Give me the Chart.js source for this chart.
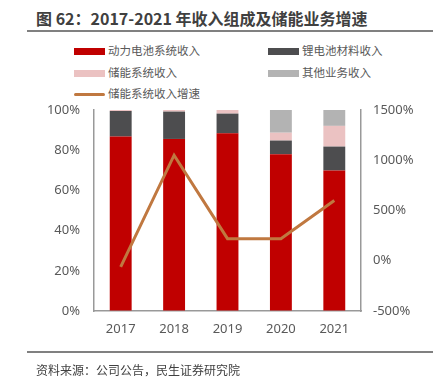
<!DOCTYPE html>
<html>
<head>
<meta charset="utf-8">
<script src="https://cdn.jsdelivr.net/npm/chart.js@4"></script>
<style>
    html, body { margin: 0; padding: 0; background: #fff; }
    body { width: 440px; height: 385px; position: relative; overflow: hidden;
           font-family: "Noto Sans CJK SC", "Noto Sans", sans-serif; }
    #title { position: absolute; left: 36px; top: 6px; font-size: 16px; font-weight: bold; color: #404040; white-space: nowrap; }
    .rule { position: absolute; left: 27px; width: 406px; height: 2px; background: #808080; }
    #source { position: absolute; left: 36px; top: 361px; font-size: 12px; color: #404040; white-space: nowrap; }
    #chartBox { position: absolute; left: 0; top: 0; width: 440px; height: 385px; }
    .legend-item { position: absolute; font-size: 11.5px; color: #595959; white-space: nowrap; line-height: 14px; }
    .legend-item span { display: inline-block; width: 31px; margin-right: 3px; vertical-align: middle; }
</style>
</head>
<body>
<div id="title">图 62：2017-2021 年收入组成及储能业务增速</div>
<div class="rule" style="top: 30px;"></div>
<div id="legend"></div>
<div id="chartBox"><canvas id="chart"></canvas></div>
<div class="rule" style="top: 351px;"></div>
<div id="source">资料来源：公司公告，民生证券研究院</div>
<script>
    const years = ['2017', '2018', '2019', '2020', '2021'];
    // revenue share, %
    const powerBattery = [86.8, 85.6, 88.4, 78.0, 69.9];
    const batteryMaterials = [12.7, 13.6, 9.8, 6.8, 11.9];
    const storageSystems = [0.5, 0.8, 1.8, 3.9, 10.3];
    const otherBusiness = [0, 0, 0, 11.3, 7.9];
    // storage revenue growth, %
    const storageGrowth = [-60, 1050, 220, 220, 600];

    const leftTicks = [0, 20, 40, 60, 80, 100];
    const rightTicks = [-500, 0, 500, 1000, 1500];

    const RED = '#C00000';
    const DARK = '#4D4D4F';
    const PINK = '#EBC2C2';
    const GREY = '#B3B3B3';
    const BROWN = '#C07840';

    const legendItems = [
        { label: '动力电池系统收入', color: RED, left: 74, top: 43, line: false },
        { label: '锂电池材料收入', color: DARK, left: 268, top: 43, line: false },
        { label: '储能系统收入', color: PINK, left: 74, top: 65, line: false },
        { label: '其他业务收入', color: GREY, left: 268, top: 65, line: false },
        { label: '储能系统收入增速', color: BROWN, left: 74, top: 86, line: true }
    ];

    function buildLegend() {
        const box = document.getElementById('legend');
        legendItems.forEach(item => {
            const el = document.createElement('div');
            el.className = 'legend-item';
            el.style.left = item.left + 'px';
            el.style.top = item.top + 'px';
            const swatch = document.createElement('span');
            swatch.style.height = item.line ? '3px' : '7px';
            swatch.style.background = item.color;
            if (item.line) swatch.style.borderRadius = '2px';
            el.appendChild(swatch);
            el.appendChild(document.createTextNode(item.label));
            box.appendChild(el);
        });
    }

    function barDataset(label, data, color) {
        return {
            type: 'bar',
            label,
            data,
            backgroundColor: color,
            yAxisID: 'y',
            stack: 'share',
            barPercentage: 0.41,
            categoryPercentage: 1,
            order: 1
        };
    }

    const tickFont = { family: '"Noto Sans", "DejaVu Sans", sans-serif', size: 13 };
    const axisBorder = { display: true, color: '#999999', width: 1.5 };

    buildLegend();

    new Chart(document.getElementById('chart'), {
        data: {
            labels: years,
            datasets: [
                {
                    type: 'line',
                    label: '储能系统收入增速',
                    data: storageGrowth,
                    yAxisID: 'y1',
                    borderColor: BROWN,
                    borderWidth: 3,
                    pointRadius: 0,
                    tension: 0,
                    fill: false,
                    order: 0
                },
                barDataset('动力电池系统收入', powerBattery, RED),
                barDataset('锂电池材料收入', batteryMaterials, DARK),
                barDataset('储能系统收入', storageSystems, PINK),
                barDataset('其他业务收入', otherBusiness, GREY)
            ]
        },
        options: {
            responsive: true,
            maintainAspectRatio: false,
            animation: false,
            layout: { padding: { left: 0, right: 0, top: 110, bottom: 43 } },
            plugins: {
                legend: { display: false },
                tooltip: { enabled: false }
            },
            scales: {
                x: {
                    stacked: true,
                    grid: { color: 'transparent', drawTicks: false },
                    border: axisBorder,
                    ticks: { color: '#595959', font: tickFont, padding: 10 },
                    afterFit: scale => { scale.height = 31; }
                },
                y: {
                    stacked: true,
                    position: 'left',
                    min: leftTicks[0],
                    max: leftTicks[leftTicks.length - 1],
                    afterBuildTicks: scale => { scale.ticks = leftTicks.map(v => ({ value: v })); },
                    grid: { color: 'transparent', drawTicks: false },
                    border: axisBorder,
                    ticks: { color: '#595959', font: tickFont, padding: 14, callback: v => v + '%' },
                    afterFit: scale => { scale.width = 94; }
                },
                y1: {
                    position: 'right',
                    min: rightTicks[0],
                    max: rightTicks[rightTicks.length - 1],
                    afterBuildTicks: scale => { scale.ticks = rightTicks.map(v => ({ value: v })); },
                    grid: { color: 'transparent', drawTicks: false },
                    border: axisBorder,
                    ticks: { color: '#595959', font: tickFont, padding: 12, callback: v => v + '%' },
                    afterFit: scale => { scale.width = 79; }
                }
            }
        }
    });
</script>
</body>
</html>
